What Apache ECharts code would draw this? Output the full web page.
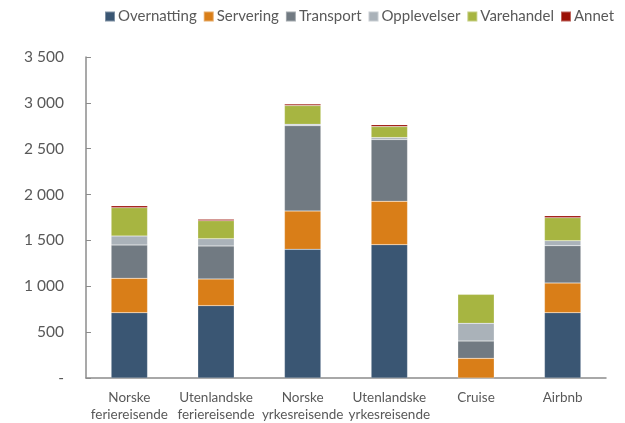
<!DOCTYPE html>
<html>
<head>
<meta charset="utf-8">
<script src="https://cdn.jsdelivr.net/npm/echarts@6/dist/echarts.min.js"></script>
<style>
  html, body { margin: 0; padding: 0; background: #fff; }
  #chart { width: 625px; height: 423px; }
</style>
</head>
<body>
<div id="chart"></div>
<script>
// kategorier og verdier (lest av figuren)
var categories = ['Norske\nferiereisende', 'Utenlandske\nferiereisende', 'Norske\nyrkesreisende', 'Utenlandske\nyrkesreisende', 'Cruise', 'Airbnb'];
var seriesNames = ['Overnatting', 'Servering', 'Transport', 'Opplevelser', 'Varehandel', 'Annet'];
var colors = ['#3a5673', '#d97e18', '#717a82', '#aab2b9', '#a7b541', '#9b1006'];

var overnatting = [712, 789, 1403, 1454, 0, 712];
var servering = [375, 291, 418, 473, 214, 324];
var transport = [363, 360, 930, 673, 189, 407];
var opplevelser = [98, 79, 15, 21, 193, 54];
var varehandel = [309, 196, 204, 120, 316, 251];
var annet = [20, 15, 18, 21, 3, 21];

var values = [overnatting, servering, transport, opplevelser, varehandel, annet];

var chart = echarts.init(document.getElementById('chart'));

function fmt(v) {
    if (v === 0) return '-';
    return String(v).replace(/\B(?=(\d{3})+(?!\d))/g, ' ');
}

var series = seriesNames.map(function(name, i) {
    return {
        name: name,
        type: 'bar',
        stack: 'total',
        barWidth: '42%',
        itemStyle: {
            color: colors[i],
            borderColor: 'rgba(255,255,255,0.35)',
            borderWidth: 0.5
        },
        data: values[i]
    };
});

var option = {
    animation: false,
    backgroundColor: '#fff',
    textStyle: { fontFamily: 'Lato, "Open Sans", sans-serif' },
    legend: {
        data: seriesNames,
        top: 4,
        left: 99,
        width: 560,
        itemWidth: 10,
        itemHeight: 10,
        itemGap: 6,
        icon: 'rect',
        textStyle: { fontSize: 15, color: '#595959', padding: [0, 0, 0, -2] }
    },
    grid: {
        left: 86,
        right: 19,
        top: 57,
        bottom: 45
    },
    xAxis: {
        type: 'category',
        data: categories,
        axisLine: { lineStyle: { color: '#8c8c8c', width: 1.5 } },
        axisTick: { inside: true, length: 5, lineStyle: { color: '#8c8c8c' } },
        axisLabel: { color: '#595959', fontSize: 13.5, margin: 11, lineHeight: 17, interval: 0 }
    },
    yAxis: {
        type: 'value',
        min: 0,
        max: 3500,
        interval: 500,
        splitLine: { show: false },
        axisLine: { show: true, lineStyle: { color: '#8c8c8c', width: 1.5 } },
        axisTick: { show: true, inside: true, length: 5, lineStyle: { color: '#8c8c8c' } },
        axisLabel: { color: '#595959', fontSize: 15.5, margin: 22, formatter: fmt }
    },
    series: series
};

chart.setOption(option);
</script>
</body>
</html>
